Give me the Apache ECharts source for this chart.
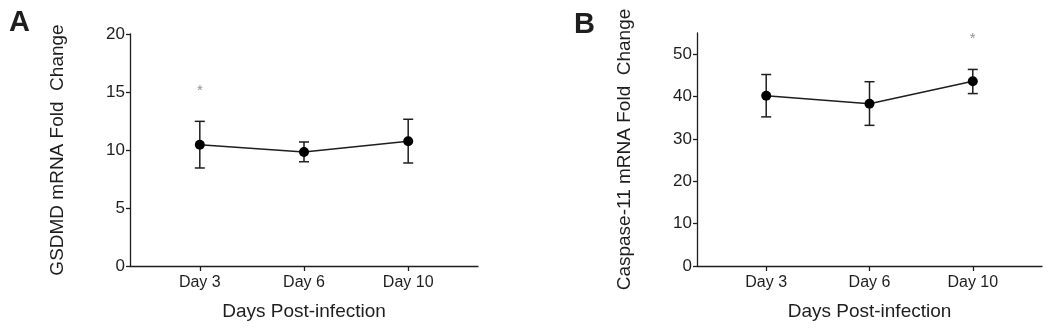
<!DOCTYPE html>
<html>
<head>
<meta charset="utf-8">
<script src="https://cdn.jsdelivr.net/npm/echarts@6/dist/echarts.min.js"></script>
<style>html,body{margin:0;padding:0;background:#fff}#c{width:1050px;height:329px}</style>
</head>
<body>
<div id="c"></div>
<script>
const days = ['Day 3', 'Day 6', 'Day 10'];
// panel A: GSDMD
const gsdmdMean = [10.46, 9.83, 10.75];
const gsdmdLow = [8.45, 8.99, 8.88];
const gsdmdHigh = [12.47, 10.69, 12.65];
const gsdmdStar = [[0, 15.1]];
// panel B: Caspase-11
const caspMean = [40.2, 38.3, 43.6];
const caspLow = [35.2, 33.2, 40.7];
const caspHigh = [45.2, 43.5, 46.4];
const caspStar = [[2, 53.6]];

const ink = '#1e1e1e';
const font = 'Liberation Sans, Arial, sans-serif';

function xAx(i){
  return {type:'value', gridIndex:i, min:-0.67, max:2.67,
    name:'Days Post-infection', nameLocation:'middle', nameGap:36,
    nameTextStyle:{fontSize:19, color:ink, fontFamily:font},
    axisLine:{onZero:false, lineStyle:{color:ink, width:1.3}},
    axisTick:{customValues:[0,1,2], length:5, lineStyle:{color:ink, width:1.3}},
    axisLabel:{customValues:[0,1,2], formatter:v=>days[Math.round(v)], fontSize:16, color:ink, fontFamily:font, margin:9},
    splitLine:{show:false}};
}
function yAx(i, max, step, title){
  const vals=[]; for(let v=0; v<=max; v+=step) vals.push(v);
  return {type:'value', gridIndex:i, min:0, max:max,
    name:title, nameLocation:'middle', nameGap:63, nameRotate:90,
    nameTextStyle:{fontSize:19, color:ink, fontFamily:font},
    axisLine:{show:true, onZero:false, lineStyle:{color:ink, width:1.3}},
    axisTick:{show:true, customValues:vals, length:4, lineStyle:{color:ink, width:1.3}},
    axisLabel:{customValues:vals, fontSize:17, color:ink, fontFamily:font, margin:5},
    splitLine:{show:false}};
}
function errBars(i, low, high){
  return {type:'custom', xAxisIndex:i, yAxisIndex:i, silent:true, z:3,
    data: low.map((l,k)=>[k, l, high[k]]),
    renderItem:(params, api)=>{
      const x=api.value(0);
      const lo=api.coord([x, api.value(1)]);
      const hi=api.coord([x, api.value(2)]);
      const w=5, st={stroke:ink, lineWidth:1.5};
      return {type:'group', children:[
        {type:'line', shape:{x1:lo[0], y1:lo[1], x2:hi[0], y2:hi[1]}, style:st},
        {type:'line', shape:{x1:lo[0]-w, y1:lo[1], x2:lo[0]+w, y2:lo[1]}, style:st},
        {type:'line', shape:{x1:hi[0]-w, y1:hi[1], x2:hi[0]+w, y2:hi[1]}, style:st}
      ]};
    }};
}
function line(i, mean){
  return {type:'line', xAxisIndex:i, yAxisIndex:i, z:4,
    data: mean.map((m,k)=>[k, m]),
    symbol:'circle', symbolSize:10, itemStyle:{color:'#000'},
    lineStyle:{color:ink, width:1.5}};
}
function star(i, pts){
  return {type:'scatter', xAxisIndex:i, yAxisIndex:i, data:pts, symbolSize:0,
    label:{show:true, formatter:'*', position:'inside', fontSize:15, color:'#777', fontFamily:font}};
}

const chart = echarts.init(document.getElementById('c'));
chart.setOption({
  animation:false,
  title:[
    {text:'A', left:4, top:3, textStyle:{fontSize:29, fontWeight:'bold', color:ink, fontFamily:font}},
    {text:'B', left:569, top:5, textStyle:{fontSize:29, fontWeight:'bold', color:ink, fontFamily:font}}
  ],
  grid:[
    {left:130, right:572, top:34, bottom:63},
    {left:697, right:8, top:33, bottom:63}
  ],
  xAxis:[xAx(0), xAx(1)],
  yAxis:[yAx(0, 20, 5, 'GSDMD mRNA Fold  Change'), yAx(1, 55, 10, 'Caspase-11 mRNA Fold  Change')],
  series:[
    errBars(0, gsdmdLow, gsdmdHigh), line(0, gsdmdMean), star(0, gsdmdStar),
    errBars(1, caspLow, caspHigh), line(1, caspMean), star(1, caspStar)
  ]
});
</script>
</body>
</html>
